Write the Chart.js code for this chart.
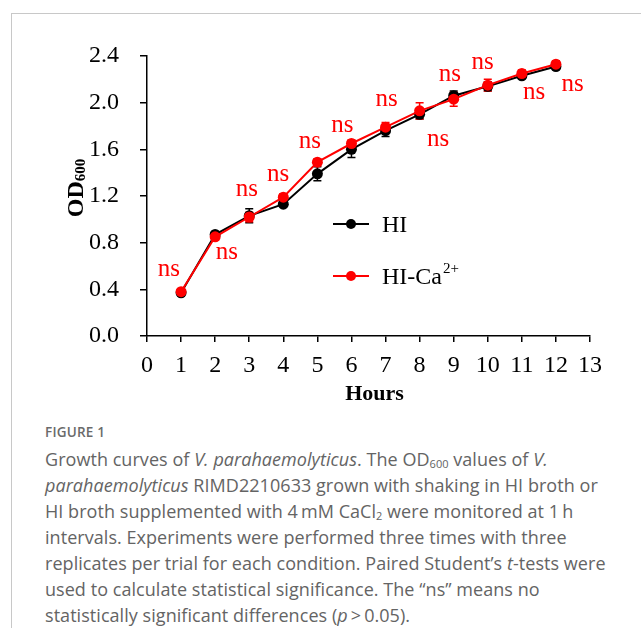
<!DOCTYPE html>
<html>
<head>
<meta charset="utf-8">
<script src="https://cdn.jsdelivr.net/npm/chart.js@4.4.0/dist/chart.umd.min.js"></script>
<style>
  body { margin: 0; background: #fff; width: 641px; height: 628px; overflow: hidden; position: relative; }
  #frame { position: absolute; left: 11px; top: 13px; width: 700px; height: 700px; border-left: 1.5px solid #c8c8c8; border-top: 1.5px solid #c8c8c8; }
  #wrap { position: absolute; left: 0; top: 0; width: 641px; height: 420px; }
  #caption { position: absolute; left: 45px; top: 421px; width: 620px; white-space: nowrap; font-family: "Open Sans", sans-serif; color: #646464; }
  #caption .fig { font-size: 13.5px; font-weight: 600; color: #6a6a6a; letter-spacing: 0.2px; line-height: 22px; }
  #caption .txt { font-size: 18px; line-height: 26px; letter-spacing: 0.05px; margin-top: 3px; }
  #caption sub { font-size: 11px; vertical-align: -2px; line-height: 0; letter-spacing: 0; }
</style>
</head>
<body>
<div id="frame"></div>
<div id="wrap"><canvas id="chart" width="641" height="420"></canvas></div>
<div id="caption">
  <div class="fig">FIGURE 1</div>
  <div class="txt">Growth curves of <i>V. parahaemolyticus</i>. The OD<sub>600</sub> values of <i>V.</i><br>
  <i>parahaemolyticus</i> RIMD2210633 grown with shaking in HI broth or<br>
  HI broth supplemented with 4&#8201;mM CaCl<sub>2</sub> were monitored at 1&#8201;h<br>
  intervals. Experiments were performed three times with three<br>
  replicates per trial for each condition. Paired Student’s <i>t</i>-tests were<br>
  used to calculate statistical significance. The “ns” means no<br>
  statistically significant differences (<i>p</i>&#8201;&gt;&#8201;0.05).</div>
</div>
<script>
const hours = [1,2,3,4,5,6,7,8,9,10,11,12];
const hiValues = [0.37,0.87,1.03,1.13,1.39,1.60,1.76,1.90,2.06,2.14,2.23,2.31];
const hiErrors = [0.02,0.02,0.06,0.02,0.06,0.07,0.05,0.04,0.04,0.04,0.02,0.02];
const caValues = [0.38,0.85,1.02,1.19,1.49,1.65,1.79,1.93,2.03,2.15,2.25,2.33];
const caErrors = [0.02,0.03,0.04,0.03,0.03,0.03,0.04,0.07,0.06,0.05,0.03,0.03];
// "ns" label anchors, in axis units
const nsX = [0.64,2.34,2.93,3.85,4.78,5.73,7.03,8.54,8.89,9.85,11.36,12.49];
const nsY = [0.57,0.71,1.25,1.38,1.66,1.80,2.02,1.68,2.24,2.34,2.08,2.15];
const xTicks = [0,1,2,3,4,5,6,7,8,9,10,11,12,13];
const yTicks = [0,0.4,0.8,1.2,1.6,2.0,2.4];

const SERIF = "'Liberation Serif', 'Times New Roman', serif";
const RED = "#ff0000";

const extras = {
  id: "extras",
  beforeDatasetsDraw(chart) {
    const ctx = chart.ctx, xs = chart.scales.x, ys = chart.scales.y;
    const sets = [[hiValues, hiErrors, "#000"], [caValues, caErrors, RED]];
    ctx.save();
    ctx.lineWidth = 1.5;
    sets.forEach(([vals, errs, col]) => {
      ctx.strokeStyle = col;
      vals.forEach((v, i) => {
        const px = xs.getPixelForValue(hours[i]);
        const top = ys.getPixelForValue(v + errs[i]);
        const bot = ys.getPixelForValue(v - errs[i]);
        ctx.beginPath();
        ctx.moveTo(px, top); ctx.lineTo(px, bot);
        ctx.moveTo(px - 4, top); ctx.lineTo(px + 4, top);
        ctx.moveTo(px - 4, bot); ctx.lineTo(px + 4, bot);
        ctx.stroke();
      });
    });
    ctx.restore();
  },
  afterDraw(chart) {
    const ctx = chart.ctx, xs = chart.scales.x, ys = chart.scales.y, a = chart.chartArea;
    ctx.save();
    // ns labels
    ctx.fillStyle = RED;
    ctx.font = "25px " + SERIF;
    ctx.textAlign = "center";
    ctx.textBaseline = "alphabetic";
    nsX.forEach((x, i) => {
      ctx.fillText("ns", xs.getPixelForValue(x), ys.getPixelForValue(nsY[i]) + 6);
    });

    // x title
    ctx.fillStyle = "#000";
    ctx.font = "bold 22px " + SERIF;
    ctx.textBaseline = "middle";
    ctx.fillText("Hours", (a.left + a.right) / 2 + 6, 394);

    // y title OD600
    ctx.save();
    ctx.translate(83, 188);
    ctx.rotate(-Math.PI / 2);
    ctx.textBaseline = "alphabetic";
    ctx.textAlign = "left";
    ctx.font = "bold 24px " + SERIF;
    const w1 = ctx.measureText("OD").width;
    ctx.font = "bold 15px " + SERIF;
    const w2 = ctx.measureText("600").width;
    const start = -(w1 + w2) / 2;
    ctx.font = "bold 24px " + SERIF;
    ctx.fillText("OD", start, 0);
    ctx.font = "bold 15px " + SERIF;
    ctx.fillText("600", start + w1, 2);
    ctx.restore();

    // legend
    const items = [["#000", "HI", "", 224], [RED, "HI-Ca", "2+", 276]];
    items.forEach(([col, label, sup, y]) => {
      ctx.strokeStyle = col;
      ctx.fillStyle = col;
      ctx.lineWidth = 2;
      ctx.beginPath(); ctx.moveTo(333, y); ctx.lineTo(369, y); ctx.stroke();
      ctx.beginPath(); ctx.arc(351, y, 5, 0, Math.PI * 2); ctx.fill();
      ctx.fillStyle = "#000";
      ctx.textAlign = "left";
      ctx.textBaseline = "alphabetic";
      ctx.font = "24px " + SERIF;
      ctx.fillText(label, 382, y + 8);
      if (sup) {
        const w = ctx.measureText(label).width;
        ctx.font = "15px " + SERIF;
        ctx.fillText(sup, 382 + w + 1, y - 3);
      }
    });
    ctx.restore();
  }
};

const ctx = document.getElementById("chart").getContext("2d");
new Chart(ctx, {
  type: "line",
  data: {
    datasets: [
      {
        label: "HI",
        data: hours.map((h, i) => ({ x: h, y: hiValues[i] })),
        borderColor: "#000",
        backgroundColor: "#000",
        borderWidth: 2,
        pointRadius: 5.5,
        pointBorderWidth: 0,
        tension: 0,
        order: 2
      },
      {
        label: "HI-Ca2+",
        data: hours.map((h, i) => ({ x: h, y: caValues[i] })),
        borderColor: RED,
        backgroundColor: RED,
        borderWidth: 2,
        pointRadius: 5.5,
        pointBorderWidth: 0,
        tension: 0,
        order: 1
      }
    ]
  },
  options: {
    responsive: false,
    animation: false,
    layout: { padding: { left: 0, right: 51, top: 56, bottom: 0 } },
    plugins: { legend: { display: false }, tooltip: { enabled: false } },
    scales: {
      x: {
        type: "linear",
        min: 0, max: 13,
        afterFit(s) { s.height = 84; },
        afterBuildTicks(s) { s.ticks = xTicks.map(v => ({ value: v })); },
        border: { display: true, color: "#000", width: 1.5 },
        grid: { drawOnChartArea: false, color: "#000", lineWidth: 1.5, tickLength: 6 },
        ticks: { color: "#000", padding: 9, maxRotation: 0, font: { family: SERIF, size: 24 } }
      },
      y: {
        min: 0, max: 2.4,
        afterFit(s) { s.width = 147; },
        afterBuildTicks(s) { s.ticks = yTicks.map(v => ({ value: v })); },
        border: { display: true, color: "#000", width: 1.5 },
        grid: { drawOnChartArea: false, color: "#000", lineWidth: 1.5, tickLength: 7 },
        ticks: { color: "#000", padding: 21, font: { family: SERIF, size: 24 }, callback: v => v.toFixed(1) }
      }
    }
  },
  plugins: [extras]
});
</script>
</body>
</html>
